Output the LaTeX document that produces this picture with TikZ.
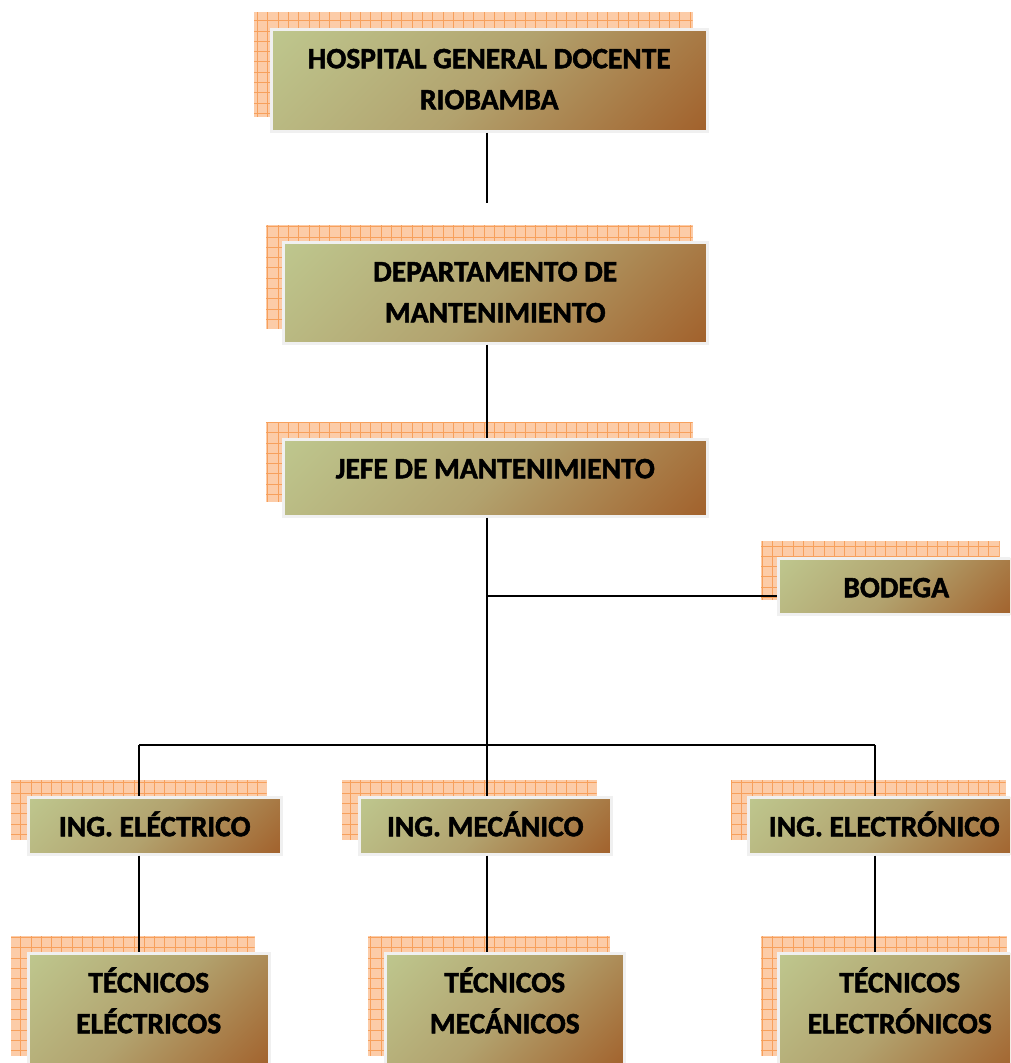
\documentclass[tikz,border=0pt]{standalone}
\usepackage{fontspec}
\setmainfont{Carlito}[BoldFeatures={FakeBold=1.7}]
\usetikzlibrary{backgrounds}
\definecolor{grn}{RGB}{195,214,155}
\definecolor{midc}{RGB}{178,162,110}
\definecolor{brn}{RGB}{155,70,16}
\definecolor{shfill}{RGB}{252,204,168}
\definecolor{shline}{RGB}{247,160,92}
\definecolor{bord}{RGB}{240,240,240}
\pgfdeclareverticalshading{boxshade}{100bp}{color(0bp)=(brn); color(50bp)=(midc); color(100bp)=(grn)}
\pgfdeclarelayer{bgzero}
\pgfsetlayers{bgzero,background,main}
\newcommand\shadowof[1]{%
  \begin{scope}[on background layer]
    \fill[shfill] ([shift={(-16,-16)}]#1.north west) rectangle ([shift={(-16,-16)}]#1.south east);
    \begin{scope}
      \clip ([shift={(-16,-16)}]#1.north west) rectangle ([shift={(-16,-16)}]#1.south east);
      \draw[shline, line width=0.8pt, step=10.3pt] ([shift={(-16,-16)}]#1.south west) grid ([shift={(-16,-16)}]#1.north east);
    \end{scope}
  \end{scope}}
\begin{document}
\begin{tikzpicture}[x=1pt,y=-1pt,
  orgbox/.style={draw=bord, line width=2.5pt, shade, shading=boxshade, shading angle=45,
    anchor=north west, inner sep=0pt, align=center, text height=39pt,
    font=\fontsize{29.5}{41}\selectfont\bfseries,
    execute at begin node={\spaceskip=0.226em\relax}},
  conn/.style={line width=2pt, draw=black}]
\useasboundingbox (0,0) rectangle (1010,1063);
\begin{pgfonlayer}{bgzero}
  \fill[white] (0,0) rectangle (1010,1063);
\end{pgfonlayer}
\clip (0,0) rectangle (1010,1063);

\node[orgbox, text width=436pt, text depth=63pt] (hosp) at (270,28) {HOSPITAL GENERAL DOCENTE\\RIOBAMBA};
\node[orgbox, text width=424pt, text depth=62pt] (dept) at (282,241) {DEPARTAMENTO DE\\MANTENIMIENTO};
\node[orgbox, text width=424pt, text depth=38pt] (jefe) at (282,438) {JEFE DE MANTENIMIENTO};
\node[orgbox, text width=236pt, text depth=17pt] (bod) at (777,557) {BODEGA};
\node[orgbox, text width=253pt, text depth=18pt] (ingel) at (27,796) {ING. ELÉCTRICO};
\node[orgbox, text width=252pt, text depth=18pt] (ingme) at (358,796) {ING. MECÁNICO};
\node[orgbox, text width=272pt, text depth=18pt] (ingeo) at (747,796) {ING. ELECTRÓNICO};
\node[orgbox, text width=241pt, text depth=78pt] (tecel) at (27,952) {TÉCNICOS\\ELÉCTRICOS};
\node[orgbox, text width=239pt, text depth=78pt] (tecme) at (384,952) {TÉCNICOS\\MECÁNICOS};
\node[orgbox, text width=243pt, text depth=78pt] (tecol) at (777,952) {TÉCNICOS\\ELECTRÓNICOS};

\shadowof{hosp}
\shadowof{dept}
\shadowof{jefe}
\shadowof{bod}
\shadowof{ingel}
\shadowof{ingme}
\shadowof{ingeo}
\shadowof{tecel}
\shadowof{tecme}
\shadowof{tecol}

\coordinate (s1) at (487,203);
\coordinate (j1) at (487,596);
\coordinate (hl) at (139,745);
\coordinate (hr) at (875,745);

\draw[conn] (hosp.south -| s1) -- (s1);
\draw[conn] (dept.south -| s1) -- (jefe.north -| s1);
\draw[conn] (jefe.south -| s1) -- (ingme.north -| s1);
\draw[conn] (j1) -- (j1 -| bod.west);
\draw[conn] (hl) -- (hr);
\draw[conn] (hl) -- (ingel.north -| hl);
\draw[conn] (hr) -- (ingeo.north -| hr);
\draw[conn] (ingel.south -| hl) -- (tecel.north -| hl);
\draw[conn] (ingme.south -| s1) -- (tecme.north -| s1);
\draw[conn] (ingeo.south -| hr) -- (tecol.north -| hr);
\end{tikzpicture}
\end{document}
